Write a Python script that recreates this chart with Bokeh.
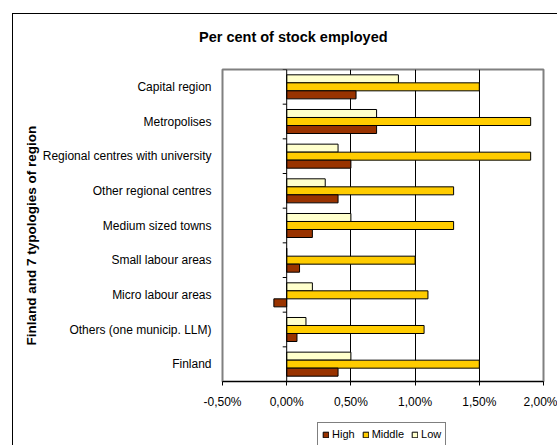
from bokeh.plotting import figure
from bokeh.layouts import column
from bokeh.models import (ColumnDataSource, FactorRange, Range1d, FixedTicker, Span,
                          Title, Legend, LegendItem)
from bokeh.transform import dodge
from bokeh.embed import file_html
from bokeh.resources import INLINE

# ---- data (top to bottom as in the chart) ----
categories = ["Capital region", "Metropolises", "Regional centres with university",
              "Other regional centres", "Medium sized towns", "Small labour areas",
              "Micro labour areas", "Others (one municip. LLM)", "Finland"]
high = [0.54, 0.70, 0.50, 0.40, 0.20, 0.10, -0.10, 0.08, 0.40]
middle = [1.50, 1.90, 1.90, 1.30, 1.30, 1.00, 1.10, 1.07, 1.50]
low = [0.87, 0.70, 0.40, 0.30, 0.50, 0.00, 0.20, 0.15, 0.50]

x_ticks = [-0.5, 0.0, 0.5, 1.0, 1.5, 2.0]
x_labels = ["-0,50%", "0,00%", "0,50%", "1,00%", "1,50%", "2,00%"]
grid_ticks = [0.5, 1.0, 1.5]

title_text = "Per cent of stock employed"
y_title = "Finland and 7 typologies of region"
series_names = ["High", "Middle", "Low"]
series_fields = ["high", "middle", "low"]
series_colors = ["#993300", "#FFCC00", "#FFFFCC"]

FONT = "Liberation Sans"

p = figure(width=544, height=397,
           y_range=FactorRange(factors=list(reversed(categories))),
           x_range=Range1d(x_ticks[0], x_ticks[-1]),
           output_backend="svg", toolbar_location=None,
           min_border_left=209, min_border_right=14,
           min_border_top=55, min_border_bottom=30)
p.background_fill_color = "white"
p.border_fill_color = "white"
p.outline_line_color = "#808080"
p.outline_line_width = 2

src = ColumnDataSource(dict(cat=categories, high=high, middle=middle, low=low))
bw = 0.231
p.hbar(y=dodge("cat", bw, range=p.y_range), left=0, right="low", height=bw,
       fill_color=series_colors[2], line_color="black", line_width=1, source=src)
p.hbar(y=dodge("cat", 0, range=p.y_range), left=0, right="middle", height=bw,
       fill_color=series_colors[1], line_color="black", line_width=1, source=src)
p.hbar(y=dodge("cat", -bw, range=p.y_range), left=0, right="high", height=bw,
       fill_color=series_colors[0], line_color="black", line_width=1, source=src)

# zero axis with category-boundary ticks
p.add_layout(Span(location=0, dimension="height", line_color="black", line_width=1))
bounds = list(range(1, len(categories) + 1))
p.segment(x0=[-0.031] * len(bounds), x1=[0] * len(bounds), y0=bounds, y1=bounds,
          line_color="black", line_width=1)

# grid
p.ygrid.grid_line_color = None
p.xgrid.ticker = FixedTicker(ticks=grid_ticks)
p.xgrid.grid_line_color = "black"
p.xgrid.grid_line_width = 1

# x axis
p.xaxis.ticker = FixedTicker(ticks=x_ticks)
p.xaxis.major_label_overrides = dict(zip(x_ticks, x_labels))
p.xaxis.axis_line_color = "black"
p.xaxis.major_tick_line_color = "black"
p.xaxis.major_tick_out = 4
p.xaxis.major_tick_in = 0
p.xaxis.minor_tick_line_color = None
p.xaxis.major_label_text_font = FONT
p.xaxis.major_label_text_font_size = "12px"
p.xaxis.major_label_text_color = "black"
p.xaxis.major_label_standoff = 9

# y axis
p.yaxis.axis_line_color = None
p.yaxis.major_tick_line_color = None
p.yaxis.minor_tick_line_color = None
p.yaxis.major_tick_out = 0
p.yaxis.major_tick_in = 0
p.yaxis.major_label_text_font = FONT
p.yaxis.major_label_text_font_size = "12px"
p.yaxis.major_label_text_color = "black"
p.yaxis.major_label_standoff = 11

# titles (a tiny spacer title lifts the main title)
p.add_layout(Title(text=" ", text_font_size="1px", standoff=22), "above")
p.add_layout(Title(text=title_text, align="left", offset=-23.5, standoff=0,
                   text_font=FONT, text_font_size="14.5px", text_font_style="bold",
                   text_color="black"), "above")
p.add_layout(Title(text=y_title, align="left", offset=36, standoff=2,
                   text_font=FONT, text_font_size="13.5px", text_font_style="bold",
                   text_color="black"), "left")

# legend in its own strip below the chart (its bars lie outside that strip's view)
lf = figure(width=544, height=34, x_range=Range1d(5, 6), y_range=Range1d(5, 6),
            output_backend="svg", toolbar_location=None,
            x_axis_type=None, y_axis_type=None,
            min_border_left=0, min_border_right=0, min_border_top=0, min_border_bottom=0)
lf.outline_line_color = None
lf.background_fill_color = "white"
lf.border_fill_color = "white"
lf.xgrid.grid_line_color = None
lf.ygrid.grid_line_color = None
lr = [lf.hbar(y=f, right=f, left=0, height=0.1, fill_color=c, line_color="black",
              line_width=1, source=src) for f, c in zip(series_fields, series_colors)]
legend = Legend(items=[LegendItem(label=n, renderers=[r]) for n, r in zip(series_names, lr)],
                location=(95, -1), orientation="horizontal")
legend.label_text_font = FONT
legend.label_text_font_size = "11px"
legend.label_text_color = "black"
legend.glyph_width = 7
legend.glyph_height = 7
legend.label_standoff = 3
legend.spacing = 7
legend.padding = 4
legend.margin = 0
legend.label_height = 14
legend.border_line_color = "black"
legend.border_line_width = 1
legend.background_fill_color = "white"
lf.add_layout(legend)

layout = column(p, lf, spacing=0)
layout.margin = (13, 0, 0, 12)
layout.styles = {"border-left": "1px solid black", "border-top": "1px solid black"}

open("out.html", "w").write(file_html(layout, INLINE))
